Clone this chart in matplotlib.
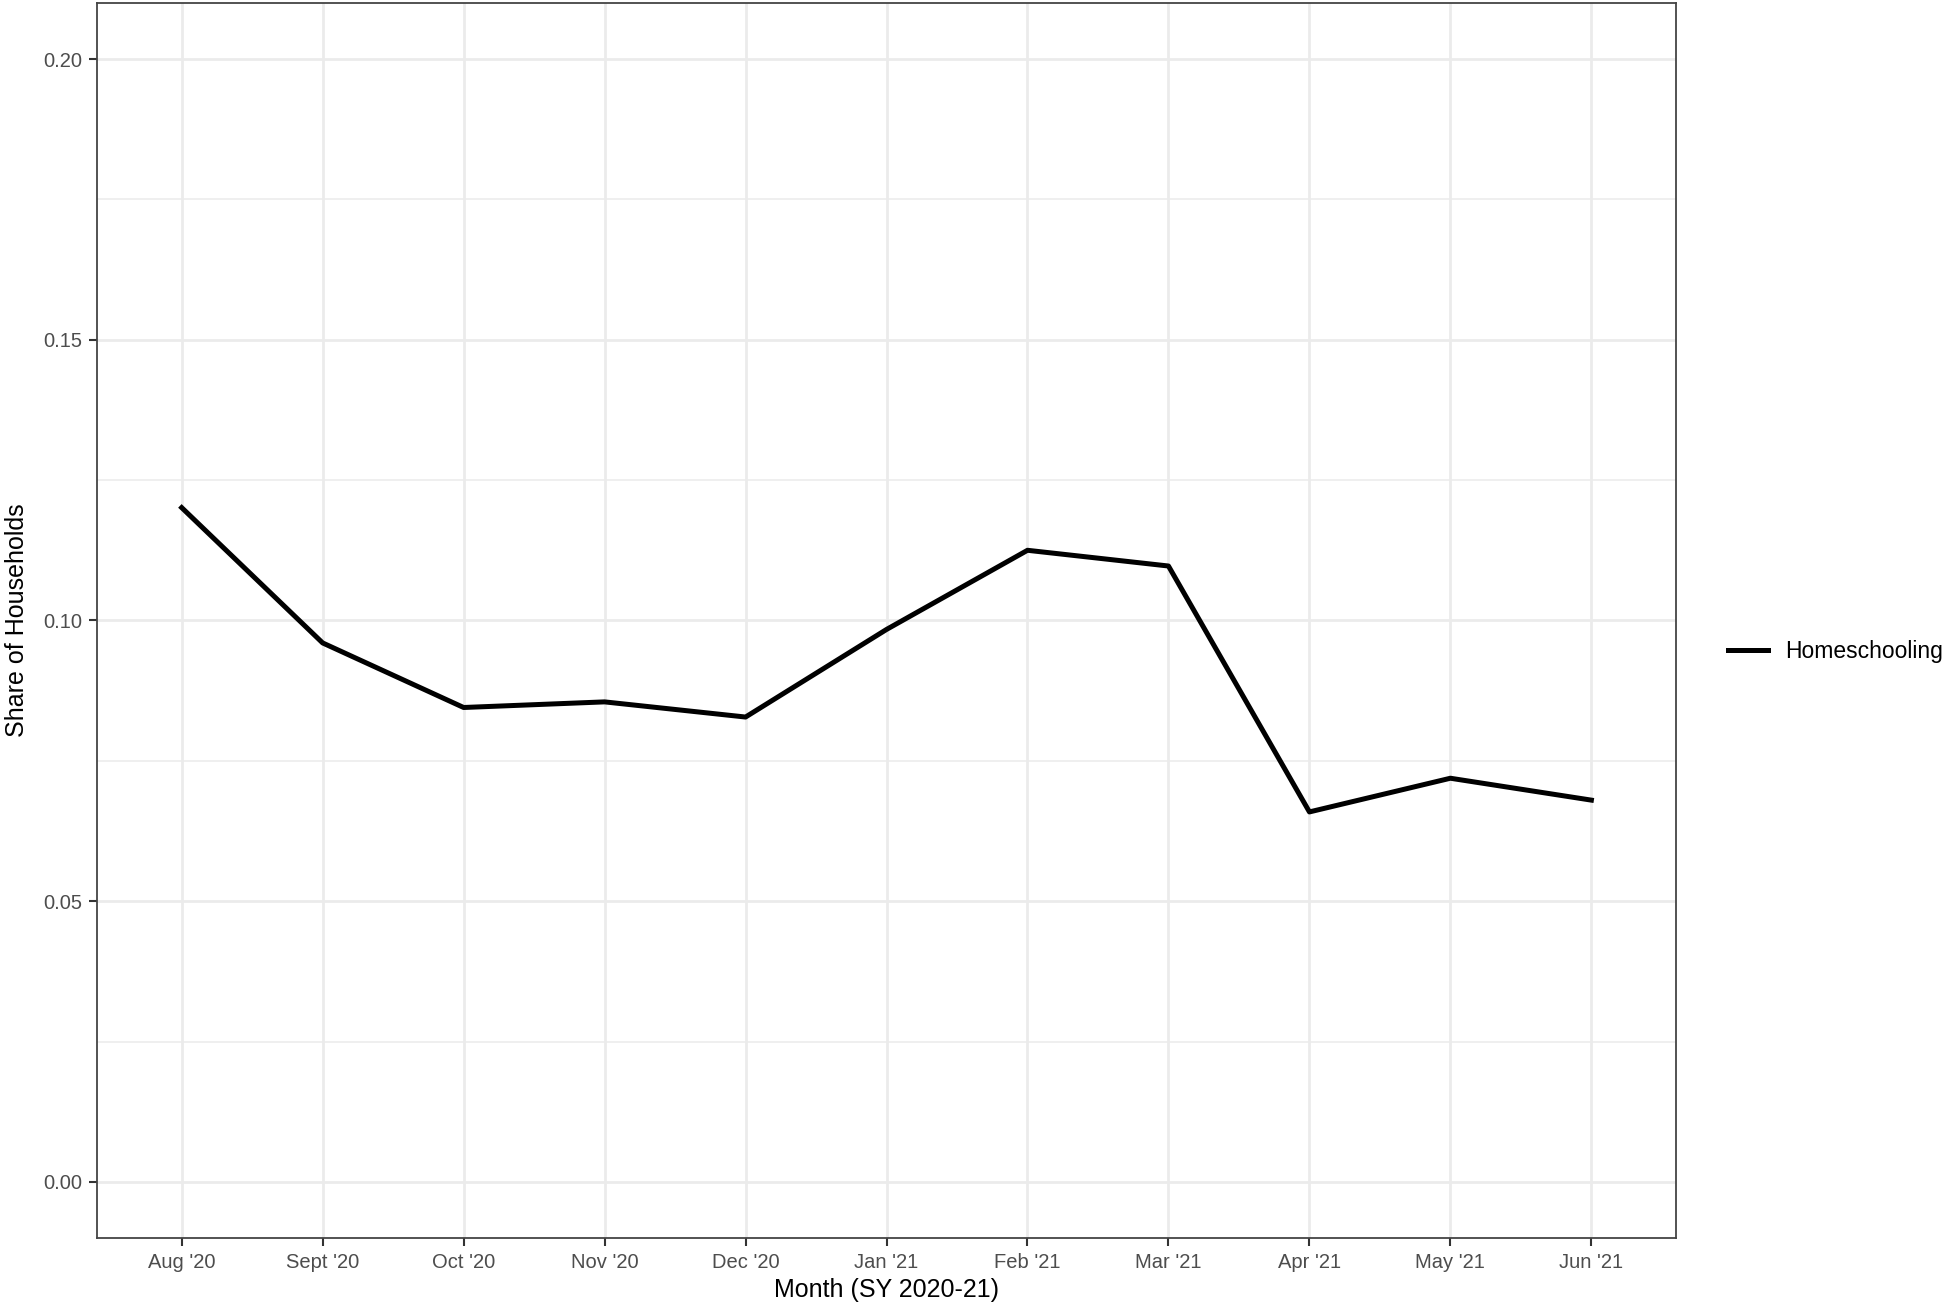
import matplotlib.pyplot as plt
from matplotlib.ticker import MultipleLocator

plt.rcParams['font.family'] = ['Liberation Sans', 'DejaVu Sans']

months = ["Aug '20", "Sept '20", "Oct '20", "Nov '20", "Dec '20", "Jan '21",
          "Feb '21", "Mar '21", "Apr '21", "May '21", "Jun '21"]
homeschooling = [0.1201, 0.0960, 0.0845, 0.0855, 0.0828, 0.0984,
                 0.1125, 0.1097, 0.0659, 0.0719, 0.0680]
y_ticks = [0.00, 0.05, 0.10, 0.15, 0.20]

fig = plt.figure(figsize=(19.42, 13.14), dpi=100)
ax = fig.add_axes([0.05, 0.0578, 0.813, 0.94])

x = list(range(len(months)))
ax.plot(x, homeschooling, color='black', linewidth=3.6, label='Homeschooling',
        solid_joinstyle='round')

ax.set_xlim(-0.6, len(months) - 0.4)
ax.set_ylim(-0.01, 0.21)
ax.set_xticks(x)
ax.set_xticklabels(months)
ax.set_yticks(y_ticks)
ax.set_yticklabels([f'{v:.2f}' for v in y_ticks])
ax.yaxis.set_minor_locator(MultipleLocator(0.025))

ax.grid(True, which='major', color='#EBEBEB', linewidth=2.0)
ax.grid(True, which='minor', axis='y', color='#EBEBEB', linewidth=1.1)
ax.set_axisbelow(True)

for s in ax.spines.values():
    s.set_color('#444444')
    s.set_linewidth(1.3)

ax.tick_params(which='major', length=6, width=1.5, color='#333333',
               labelsize=14.5, labelcolor='#4D4D4D', pad=5)
ax.tick_params(which='minor', length=0)

ax.set_xlabel('Month (SY 2020-21)', fontsize=18, labelpad=4)
ax.set_ylabel('Share of Households', fontsize=18, labelpad=10)

fig.legend(loc='center left', bbox_to_anchor=(0.879, 0.504), frameon=False,
           fontsize=16.5, handlelength=1.75, handletextpad=0.75)

fig.savefig('out.png', dpi=100)
